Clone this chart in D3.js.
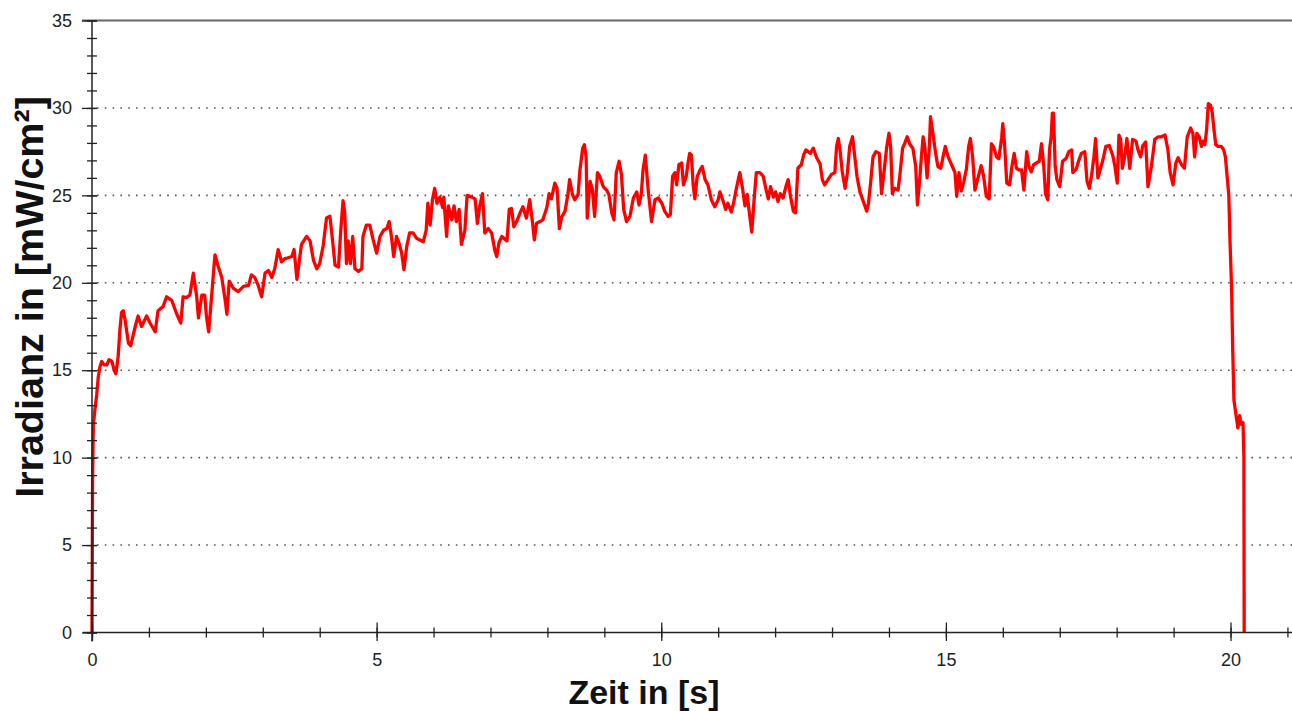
<!DOCTYPE html>
<html><head><meta charset="utf-8">
<script src="https://cdn.jsdelivr.net/npm/d3@7"></script>
<style>html,body{margin:0;padding:0;background:#fff;} svg{display:block}</style>
</head><body>
<svg id="chart" width="1292" height="711"></svg>
<script>
const xLabel = "Zeit in [s]";
const yLabel = "Irradianz in [mW/cm²]";
const xMajorTicks = [0, 5, 10, 15, 20];
const xMinorTicks = d3.range(0, 22, 1);
const yMajorTicks = [0, 5, 10, 15, 20, 25, 30, 35];
const yMinorTicks = d3.range(0, 36, 1);
const gridValues = [5, 10, 15, 20, 25, 30];

const timeS = [
0.000,0.005,0.010,0.023,0.053,0.083,0.110,0.140,0.170,0.210,0.260,0.300,0.350,0.390,0.420,0.460,0.490,0.520,0.550,0.580,
0.640,0.680,0.760,0.810,0.870,0.960,1.020,1.110,1.160,1.250,1.310,1.400,1.490,1.560,1.600,1.660,1.720,1.780,1.840,1.870,
1.930,1.980,2.010,2.050,2.100,2.160,2.220,2.280,2.340,2.370,2.410,2.480,2.570,2.660,2.750,2.800,2.860,2.920,2.980,3.040,
3.100,3.160,3.210,3.270,3.330,3.390,3.420,3.510,3.550,3.600,3.620,3.680,3.770,3.830,3.890,3.950,4.000,4.060,4.120,4.180,
4.230,4.270,4.330,4.370,4.410,4.440,4.470,4.500,4.540,4.580,4.620,4.680,4.740,4.760,4.820,4.880,4.940,5.000,5.060,5.120,
5.180,5.220,5.260,5.300,5.350,5.400,5.440,5.480,5.530,5.580,5.640,5.700,5.760,5.820,5.870,5.900,5.940,5.980,6.020,6.060,
6.110,6.160,6.180,6.230,6.260,6.320,6.360,6.400,6.450,6.490,6.550,6.590,6.670,6.730,6.770,6.810,6.860,6.900,6.960,7.020,
7.080,7.110,7.150,7.200,7.250,7.290,7.330,7.370,7.410,7.460,7.520,7.570,7.630,7.690,7.740,7.770,7.810,7.870,7.920,7.990,
8.030,8.070,8.130,8.170,8.210,8.250,8.310,8.360,8.390,8.440,8.480,8.540,8.570,8.620,8.650,8.680,8.700,8.750,8.790,8.830,
8.880,8.920,8.980,9.040,9.080,9.130,9.170,9.210,9.260,9.300,9.340,9.390,9.450,9.510,9.570,9.610,9.650,9.680,9.720,9.770,
9.830,9.890,9.950,10.010,10.060,10.120,10.160,10.200,10.240,10.270,10.310,10.360,10.390,10.440,10.470,10.500,10.530,10.560,10.590,10.630,
10.680,10.720,10.770,10.820,10.880,10.940,11.000,11.030,11.090,11.130,11.170,11.230,11.270,11.320,11.380,11.430,11.470,11.510,11.540,11.590,
11.630,11.670,11.730,11.790,11.840,11.880,11.920,11.970,12.010,12.050,12.090,12.140,12.190,12.230,12.270,12.320,12.360,12.400,12.460,12.500,
12.540,12.580,12.620,12.670,12.730,12.790,12.830,12.870,12.930,12.990,13.050,13.080,13.110,13.140,13.180,13.230,13.270,13.310,13.360,13.400,
13.440,13.490,13.550,13.610,13.640,13.680,13.720,13.770,13.830,13.870,13.910,13.960,14.000,14.030,14.060,14.100,14.160,14.190,14.240,14.280,
14.320,14.370,14.420,14.470,14.500,14.540,14.570,14.600,14.630,14.670,14.710,14.730,14.780,14.820,14.860,14.910,14.950,14.990,15.040,15.100,
15.160,15.190,15.230,15.270,15.310,15.360,15.400,15.430,15.470,15.510,15.560,15.620,15.660,15.710,15.760,15.800,15.840,15.890,15.930,15.980,
16.000,16.030,16.070,16.120,16.160,16.200,16.240,16.290,16.330,16.370,16.420,16.460,16.500,16.540,16.590,16.640,16.680,16.720,16.750,16.790,
16.820,16.850,16.870,16.890,16.920,16.950,17.000,17.050,17.110,17.160,17.210,17.230,17.290,17.340,17.380,17.440,17.480,17.520,17.560,17.600,
17.630,17.670,17.710,17.760,17.810,17.870,17.930,17.970,18.010,18.040,18.070,18.100,18.140,18.180,18.230,18.280,18.340,18.370,18.420,18.460,
18.510,18.550,18.610,18.670,18.730,18.790,18.850,18.900,18.940,18.990,19.040,19.080,19.140,19.190,19.240,19.300,19.340,19.370,19.410,19.450,
19.490,19.520,19.550,19.580,19.610,19.650,19.680,19.710,19.740,19.780,19.840,19.880,19.910,19.940,19.970,19.990,20.020,20.040,20.060,20.090,
20.130,20.160,20.190,20.220,20.235,20.240
];
const irradiance = [
0,4,8.5,11.8,12.8,13.6,14.6,15.2,15.5,15.3,15.3,15.6,15.5,15.0,14.8,15.8,17.3,18.3,18.4,17.9,
16.55,16.4,17.5,18.1,17.5,18.1,17.7,17.2,18.4,18.65,19.2,19.0,18.2,17.7,19.2,19.15,19.3,20.55,19.2,18.0,
19.3,19.3,18.1,17.2,19.2,21.6,20.9,20.3,19.0,18.2,20.1,19.7,19.5,19.8,19.85,20.45,20.3,19.85,19.2,20.55,
20.7,20.3,20.8,21.9,21.2,21.4,21.4,21.5,21.9,20.2,20.7,22.2,22.65,22.4,21.3,20.8,21.1,22.1,23.7,23.8,
22.3,21.0,20.9,23.0,24.7,24.0,21.1,22.4,21.1,22.65,20.8,20.65,20.8,22.65,23.3,23.3,22.45,21.7,22.65,23.0,
23.1,23.5,22.65,21.5,22.65,22.2,21.7,20.75,22.1,22.85,22.85,22.55,22.45,22.35,23.0,24.55,23.3,24.75,25.4,24.55,
24.9,24.3,24.9,22.65,24.4,23.6,24.4,23.5,24.2,22.2,23.0,25.0,24.9,24.8,23.4,24.35,25.1,22.85,23.1,22.85,
21.8,21.5,22.3,22.65,22.5,22.4,24.2,24.25,23.2,23.5,24.0,24.35,23.7,24.75,23.4,22.45,23.4,23.5,23.6,24.3,
25.1,24.8,25.7,25.4,23.1,23.75,24.1,25.05,25.9,25.05,24.75,25.05,26.4,27.7,27.9,27.2,23.7,25.8,25.35,23.8,
26.3,26.1,25.5,25.3,25.05,24.0,23.6,26.3,26.95,26.2,24.2,23.5,23.8,24.85,25.2,24.45,25.1,26.45,27.3,25.3,
23.5,24.75,24.85,24.55,24.1,23.8,23.9,26.1,26.3,25.6,26.75,26.85,25.6,26.1,26.85,27.4,27.3,25.6,24.8,26.05,
26.45,26.65,25.9,25.6,24.75,24.35,24.75,25.2,24.65,24.2,24.55,24.05,24.55,25.4,26.3,25.35,24.4,25.05,24.2,22.9,
24.7,26.3,26.3,26.1,25.35,24.8,25.5,24.9,25.2,24.65,25.1,24.85,25.5,25.9,24.95,24.1,24.0,26.55,26.75,27.3,
27.6,27.5,27.4,27.7,27.15,26.8,25.9,25.6,25.9,26.2,26.3,27.8,28.25,27.6,26.35,25.4,26.3,27.8,28.35,27.2,
26.05,25.2,24.65,24.1,24.55,25.8,27.2,27.5,27.4,25.1,26.25,27.75,28.55,27.75,25.1,25.4,25.3,26.1,27.7,28.0,
28.35,27.9,27.7,26.65,24.45,25.9,27.2,28.35,27.8,26.0,27.8,29.5,28.35,27.4,26.65,26.55,27.2,27.8,27.2,26.75,
26.3,24.95,26.3,25.25,25.7,26.5,27.8,28.25,27.2,25.3,25.95,26.7,26.15,24.95,24.8,27.95,27.75,27.2,27.1,28.3,
29.1,27.95,25.7,25.6,26.65,27.4,26.55,26.45,26.45,25.3,27.5,26.65,26.35,26.75,26.85,26.95,27.95,26.65,25.1,24.75,
27.6,28.35,29.7,29.7,26.65,25.9,25.5,26.95,27.1,27.5,27.6,26.3,26.5,27.05,27.4,27.5,25.8,25.4,26.15,27.2,
28.25,26.0,26.45,27.05,27.8,27.85,27.3,26.65,25.7,28.45,28.2,26.55,27.2,28.25,26.55,28.2,28.1,27.65,27.2,27.85,
28.05,25.5,26.65,28.2,28.35,28.35,28.45,27.6,26.3,25.6,26.85,27.15,26.75,26.55,28.35,28.85,28.55,27.2,28.55,28.35,
27.8,28.1,27.9,28.75,30.25,30.15,29.7,28.75,27.9,27.8,27.8,27.6,27.2,26.1,25.0,22.5,19.5,16.0,13.3,12.6,
11.7,12.4,11.9,12.0,10.0,0
];

const svg = d3.select("#chart");
const x = d3.scaleLinear().domain([0, 21.08]).range([92, 1292]);
const y = d3.scaleLinear().domain([0, 35]).range([632.5, 20.5]);
const font = "'Liberation Sans', Arial, sans-serif";

// grid
svg.append("g").selectAll("line").data(gridValues).join("line")
  .attr("x1", 97).attr("x2", 1292)
  .attr("y1", d => y(d)).attr("y2", d => y(d))
  .attr("stroke", "#555").attr("stroke-width", 1.6)
  .attr("stroke-dasharray", "1.6,6.2");

// top border
svg.append("line").attr("x1", 82).attr("x2", 1292).attr("y1", y(35)).attr("y2", y(35))
  .attr("stroke", "#666").attr("stroke-width", 2);

// data line
const pts = timeS.map((t, i) => [t, irradiance[i]]);
svg.append("path").datum(pts)
  .attr("fill", "none").attr("stroke", "#ff0000").attr("stroke-width", 3.3)
  .attr("stroke-linejoin", "round")
  .attr("d", d3.line().x(d => x(d[0])).y(d => y(d[1])));

// x axis
const gx = svg.append("g").attr("transform", `translate(0,${y(0)})`);
gx.append("g").call(d3.axisBottom(x).tickValues(xMinorTicks).tickSize(5).tickFormat(""))
  .call(g => g.select(".domain").remove())
  .call(g => g.selectAll(".tick line").attr("y1", -5).attr("stroke", "#222").attr("stroke-width", 1.3));
gx.append("g").call(d3.axisBottom(x).tickValues(xMajorTicks).tickSize(8.5).tickPadding(12).tickFormat(d3.format("d")))
  .call(g => g.select(".domain").remove())
  .call(g => g.selectAll(".tick line").attr("y1", -10).attr("stroke", "#222").attr("stroke-width", 1.3))
  .call(g => g.selectAll(".tick text").attr("font-family", font).attr("font-size", 18).attr("fill", "#222"));
gx.append("line").attr("x1", 83).attr("x2", 1292).attr("stroke", "#222").attr("stroke-width", 1.5);

// y axis
const gy = svg.append("g").attr("transform", `translate(${x(0)},0)`);
gy.append("g").call(d3.axisLeft(y).tickValues(yMinorTicks).tickSize(5).tickFormat(""))
  .call(g => g.select(".domain").remove())
  .call(g => g.selectAll(".tick line").attr("x1", 5).attr("stroke", "#222").attr("stroke-width", 1.3));
gy.append("g").call(d3.axisLeft(y).tickValues(yMajorTicks).tickSize(10).tickPadding(10).tickFormat(d3.format("d")))
  .call(g => g.select(".domain").remove())
  .call(g => g.selectAll(".tick line").attr("x1", 5).attr("stroke", "#222").attr("stroke-width", 1.3))
  .call(g => g.selectAll(".tick text").attr("font-family", font).attr("font-size", 18).attr("fill", "#222"));
gy.append("line").attr("y1", y(35)).attr("y2", y(0) + 9).attr("stroke", "#222").attr("stroke-width", 1.5);

// titles
svg.append("text").attr("x", 644).attr("y", 704).attr("text-anchor", "middle")
  .attr("font-family", font).attr("font-weight", "bold").attr("font-size", 34).attr("fill", "#111")
  .text(xLabel);
svg.append("text").attr("transform", "translate(43,297) rotate(-90)").attr("text-anchor", "middle")
  .attr("font-family", font).attr("font-weight", "bold").attr("font-size", 39.5).attr("fill", "#111")
  .text(yLabel);
</script>
</body></html>
